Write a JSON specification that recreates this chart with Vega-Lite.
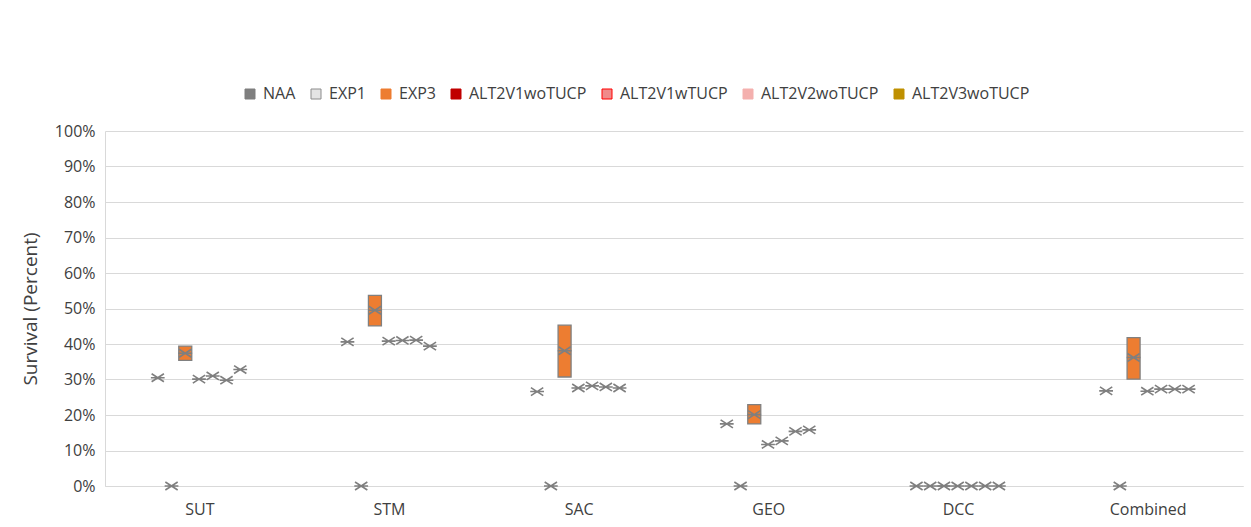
{
  "$schema": "https://vega.github.io/schema/vega-lite/v6.json",
  "autosize": "none",
  "width": 1138,
  "height": 355,
  "padding": {"left": 105, "top": 131, "right": 8, "bottom": 41},
  "background": "white",
  "config": {
    "font": "Open Sans",
    "view": {"stroke": null},
    "axis": {"labelFont": "Open Sans", "titleFont": "Open Sans", "labelColor": "#404040", "titleColor": "#404040"}
  },
  "data": {
    "values": [
      {"cat": "SUT", "series": "NAA", "value": 30.5},
      {"cat": "SUT", "series": "EXP1", "value": 0},
      {"cat": "SUT", "series": "EXP3", "value": 37.4, "q1": 35.4, "q3": 39.4},
      {"cat": "SUT", "series": "ALT2V1woTUCP", "value": 30.1},
      {"cat": "SUT", "series": "ALT2V1wTUCP", "value": 31.0},
      {"cat": "SUT", "series": "ALT2V2woTUCP", "value": 29.8},
      {"cat": "SUT", "series": "ALT2V3woTUCP", "value": 32.8},
      {"cat": "STM", "series": "NAA", "value": 40.6},
      {"cat": "STM", "series": "EXP1", "value": 0},
      {"cat": "STM", "series": "EXP3", "value": 49.5, "q1": 45.1, "q3": 53.7},
      {"cat": "STM", "series": "ALT2V1woTUCP", "value": 40.8},
      {"cat": "STM", "series": "ALT2V1wTUCP", "value": 41.0},
      {"cat": "STM", "series": "ALT2V2woTUCP", "value": 41.1},
      {"cat": "STM", "series": "ALT2V3woTUCP", "value": 39.4},
      {"cat": "SAC", "series": "NAA", "value": 26.6},
      {"cat": "SAC", "series": "EXP1", "value": 0},
      {"cat": "SAC", "series": "EXP3", "value": 38.1, "q1": 30.7, "q3": 45.3},
      {"cat": "SAC", "series": "ALT2V1woTUCP", "value": 27.6},
      {"cat": "SAC", "series": "ALT2V1wTUCP", "value": 28.2},
      {"cat": "SAC", "series": "ALT2V2woTUCP", "value": 27.9},
      {"cat": "SAC", "series": "ALT2V3woTUCP", "value": 27.6},
      {"cat": "GEO", "series": "NAA", "value": 17.5},
      {"cat": "GEO", "series": "EXP1", "value": 0},
      {"cat": "GEO", "series": "EXP3", "value": 20.1, "q1": 17.5, "q3": 22.9},
      {"cat": "GEO", "series": "ALT2V1woTUCP", "value": 11.7},
      {"cat": "GEO", "series": "ALT2V1wTUCP", "value": 12.7},
      {"cat": "GEO", "series": "ALT2V2woTUCP", "value": 15.4},
      {"cat": "GEO", "series": "ALT2V3woTUCP", "value": 15.8},
      {"cat": "DCC", "series": "NAA", "value": 0},
      {"cat": "DCC", "series": "EXP1", "value": 0},
      {"cat": "DCC", "series": "EXP3", "value": 0, "q1": 0, "q3": 0},
      {"cat": "DCC", "series": "ALT2V1woTUCP", "value": 0},
      {"cat": "DCC", "series": "ALT2V1wTUCP", "value": 0},
      {"cat": "DCC", "series": "ALT2V2woTUCP", "value": 0},
      {"cat": "DCC", "series": "ALT2V3woTUCP", "value": 0},
      {"cat": "Combined", "series": "NAA", "value": 26.8},
      {"cat": "Combined", "series": "EXP1", "value": 0},
      {"cat": "Combined", "series": "EXP3", "value": 36.2, "q1": 30.1, "q3": 41.8},
      {"cat": "Combined", "series": "ALT2V1woTUCP", "value": 26.7},
      {"cat": "Combined", "series": "ALT2V1wTUCP", "value": 27.3},
      {"cat": "Combined", "series": "ALT2V2woTUCP", "value": 27.3},
      {"cat": "Combined", "series": "ALT2V3woTUCP", "value": 27.3}
    ]
  },
  "encoding": {
    "x": {
      "field": "cat", "type": "nominal",
      "sort": ["SUT", "STM", "SAC", "GEO", "DCC", "Combined"],
      "scale": {"paddingInner": 0, "paddingOuter": 0},
      "axis": {"title": null, "labelAngle": 0, "ticks": false, "domain": true, "domainColor": "#d9d9d9", "labelFontSize": 16, "labelPadding": 15}
    },
    "xOffset": {
      "field": "series", "type": "nominal",
      "sort": ["NAA", "EXP1", "EXP3", "ALT2V1woTUCP", "ALT2V1wTUCP", "ALT2V2woTUCP", "ALT2V3woTUCP"],
      "scale": {"type": "band", "paddingInner": 0, "paddingOuter": 0, "range": [45.9, 142.1]}
    }
  },
  "layer": [
    {
      "transform": [{"filter": "isValid(datum.q1)"}],
      "mark": {"type": "bar", "width": 13, "fill": "#ED7D31", "stroke": "#808080", "strokeWidth": 1.3},
      "encoding": {
        "y": {
          "field": "q1", "type": "quantitative",
          "scale": {"domain": [0, 100], "nice": false},
          "axis": {
            "title": "Survival (Percent)", "titleFontSize": 19, "titleFontWeight": "normal", "titlePadding": 14,
            "values": [0, 10, 20, 30, 40, 50, 60, 70, 80, 90, 100],
            "labelExpr": "datum.value + '%'", "labelOverlap": false,
            "labelFontSize": 16, "labelPadding": 10, "ticks": false,
            "domain": true, "domainColor": "#d9d9d9",
            "grid": true, "gridColor": "#d9d9d9", "gridWidth": 1
          }
        },
        "y2": {"field": "q3"}
      }
    },
    {
      "mark": {
        "type": "point",
        "shape": "M-0.85,-0.55L0.85,0.55M-0.85,0.55L0.85,-0.55M-0.95,0L0.95,0",
        "size": 210, "filled": false, "stroke": "#7F7F7F", "strokeWidth": 1.6, "opacity": 1
      },
      "encoding": {
        "y": {
          "field": "value", "type": "quantitative",
          "scale": {"domain": [0, 100], "nice": false},
          "axis": {
            "title": "Survival (Percent)", "titleFontSize": 19, "titleFontWeight": "normal", "titlePadding": 14,
            "values": [0, 10, 20, 30, 40, 50, 60, 70, 80, 90, 100],
            "labelExpr": "datum.value + '%'", "labelOverlap": false,
            "labelFontSize": 16, "labelPadding": 10, "ticks": false,
            "domain": true, "domainColor": "#d9d9d9",
            "grid": true, "gridColor": "#d9d9d9", "gridWidth": 1
          }
        }
      }
    },
    {
      "mark": {"type": "point", "shape": "square", "filled": true, "opacity": 0},
      "encoding": {
        "y": {
          "field": "value", "type": "quantitative",
          "scale": {"domain": [0, 100], "nice": false},
          "axis": {
            "title": "Survival (Percent)", "titleFontSize": 19, "titleFontWeight": "normal", "titlePadding": 14,
            "values": [0, 10, 20, 30, 40, 50, 60, 70, 80, 90, 100],
            "labelExpr": "datum.value + '%'", "labelOverlap": false,
            "labelFontSize": 16, "labelPadding": 10, "ticks": false,
            "domain": true, "domainColor": "#d9d9d9",
            "grid": true, "gridColor": "#d9d9d9", "gridWidth": 1
          }
        },
        "fill": {
          "field": "series", "type": "nominal",
          "sort": ["NAA", "EXP1", "EXP3", "ALT2V1woTUCP", "ALT2V1wTUCP", "ALT2V2woTUCP", "ALT2V3woTUCP"],
          "scale": {
            "domain": ["NAA", "EXP1", "EXP3", "ALT2V1woTUCP", "ALT2V1wTUCP", "ALT2V2woTUCP", "ALT2V3woTUCP"],
            "range": ["#7F7F7F", "#E4E4E4", "#ED7D31", "#C00000", "#F08A8A", "#F4B0AE", "#BF9000"]
          },
          "legend": {
            "title": null, "orient": "none", "direction": "horizontal",
            "legendX": 137, "legendY": -45,
            "symbolType": "square", "symbolSize": 100, "symbolOpacity": 1,
            "symbolStrokeWidth": 1, "labelFont": "Open Sans", "labelFontSize": 16,
            "labelColor": "#404040", "labelOffset": 5, "columnPadding": 12, "padding": 0,
            "encode": {
              "symbols": {
                "update": {
                  "fill": [
                    {"test": "datum.value === 'EXP1'", "value": {"gradient": "linear", "x1": 0, "y1": 0, "x2": 1, "y2": 0, "stops": [
                      {"offset": 0, "color": "#ffffff"}, {"offset": 0.22, "color": "#ffffff"},
                      {"offset": 0.22, "color": "#8c8c8c"}, {"offset": 0.32, "color": "#8c8c8c"},
                      {"offset": 0.32, "color": "#ffffff"}, {"offset": 0.45, "color": "#ffffff"},
                      {"offset": 0.45, "color": "#8c8c8c"}, {"offset": 0.55, "color": "#8c8c8c"},
                      {"offset": 0.55, "color": "#ffffff"}, {"offset": 0.68, "color": "#ffffff"},
                      {"offset": 0.68, "color": "#8c8c8c"}, {"offset": 0.78, "color": "#8c8c8c"},
                      {"offset": 0.78, "color": "#ffffff"}, {"offset": 1, "color": "#ffffff"}
                    ]}},
                    {"test": "datum.value === 'ALT2V1wTUCP'", "value": {"gradient": "linear", "x1": 0, "y1": 0, "x2": 1, "y2": 1, "stops": [
                      {"offset": 0, "color": "#ff0000"}, {"offset": 0.3, "color": "#ff0000"},
                      {"offset": 0.3, "color": "#ffffff"}, {"offset": 0.5, "color": "#ffffff"},
                      {"offset": 0.5, "color": "#ff0000"}, {"offset": 0.7, "color": "#ff0000"},
                      {"offset": 0.7, "color": "#ffffff"}, {"offset": 1, "color": "#ffffff"}
                    ]}},
                    {"scale": "fill", "field": "value"}
                  ]
                }
              }
            }
          }
        },
        "stroke": {
          "field": "series", "type": "nominal",
          "sort": ["NAA", "EXP1", "EXP3", "ALT2V1woTUCP", "ALT2V1wTUCP", "ALT2V2woTUCP", "ALT2V3woTUCP"],
          "scale": {
            "domain": ["NAA", "EXP1", "EXP3", "ALT2V1woTUCP", "ALT2V1wTUCP", "ALT2V2woTUCP", "ALT2V3woTUCP"],
            "range": ["#7F7F7F", "#8c8c8c", "#ED7D31", "#C00000", "#FF0000", "#F4B0AE", "#BF9000"]
          },
          "legend": {
            "title": null, "orient": "none", "direction": "horizontal",
            "legendX": 137, "legendY": -45,
            "symbolType": "square", "symbolSize": 100, "symbolOpacity": 1,
            "symbolStrokeWidth": 1, "labelFont": "Open Sans", "labelFontSize": 16,
            "labelColor": "#404040", "labelOffset": 5, "columnPadding": 12, "padding": 0,
            "encode": {
              "symbols": {
                "update": {
                  "fill": [
                    {"test": "datum.value === 'EXP1'", "value": {"gradient": "linear", "x1": 0, "y1": 0, "x2": 1, "y2": 0, "stops": [
                      {"offset": 0, "color": "#ffffff"}, {"offset": 0.22, "color": "#ffffff"},
                      {"offset": 0.22, "color": "#8c8c8c"}, {"offset": 0.32, "color": "#8c8c8c"},
                      {"offset": 0.32, "color": "#ffffff"}, {"offset": 0.45, "color": "#ffffff"},
                      {"offset": 0.45, "color": "#8c8c8c"}, {"offset": 0.55, "color": "#8c8c8c"},
                      {"offset": 0.55, "color": "#ffffff"}, {"offset": 0.68, "color": "#ffffff"},
                      {"offset": 0.68, "color": "#8c8c8c"}, {"offset": 0.78, "color": "#8c8c8c"},
                      {"offset": 0.78, "color": "#ffffff"}, {"offset": 1, "color": "#ffffff"}
                    ]}},
                    {"test": "datum.value === 'ALT2V1wTUCP'", "value": {"gradient": "linear", "x1": 0, "y1": 0, "x2": 1, "y2": 1, "stops": [
                      {"offset": 0, "color": "#ff0000"}, {"offset": 0.3, "color": "#ff0000"},
                      {"offset": 0.3, "color": "#ffffff"}, {"offset": 0.5, "color": "#ffffff"},
                      {"offset": 0.5, "color": "#ff0000"}, {"offset": 0.7, "color": "#ff0000"},
                      {"offset": 0.7, "color": "#ffffff"}, {"offset": 1, "color": "#ffffff"}
                    ]}},
                    {"scale": "fill", "field": "value"}
                  ]
                }
              }
            }
          }
        }
      }
    }
  ]
}
